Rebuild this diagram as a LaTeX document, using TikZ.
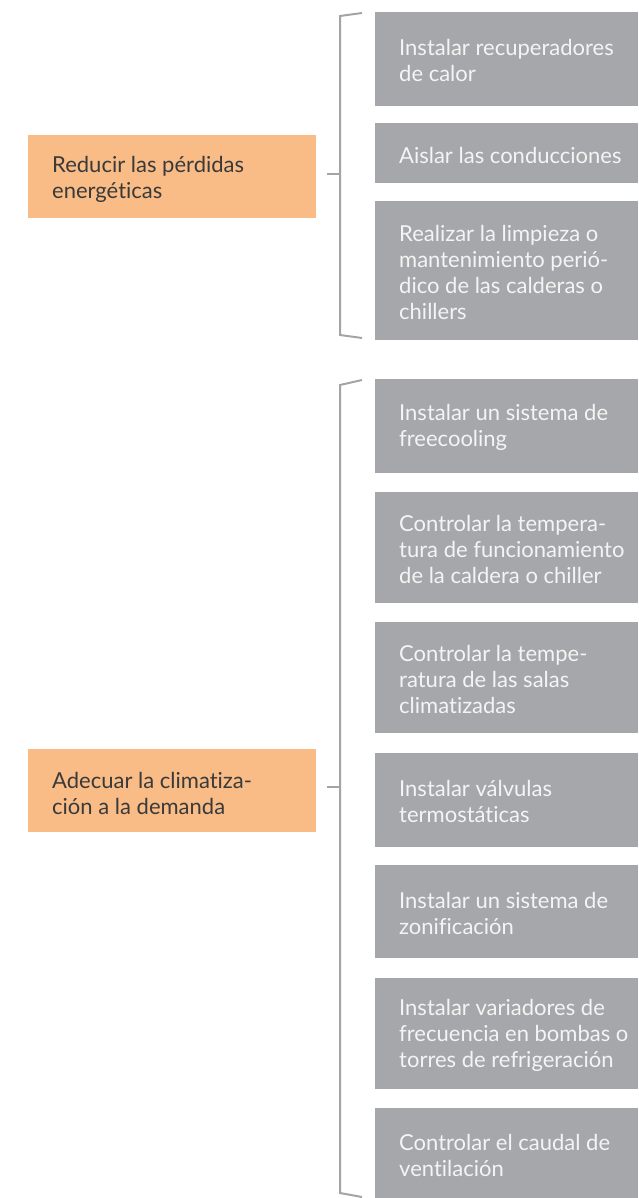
\documentclass[tikz,border=0pt]{standalone}
\usepackage{fontspec}
\setmainfont{Lato}[Ligatures={NoCommon}]
\definecolor{boxgray}{HTML}{A6A7AA}
\definecolor{boxorange}{HTML}{F9BC86}
\definecolor{linegray}{HTML}{A3A4A7}
\definecolor{graytext}{HTML}{F4F4F4}
\definecolor{darktext}{HTML}{3A3A3A}
\begin{document}
\begin{tikzpicture}[x=1pt,y=-1pt,
  graybox/.style={fill=boxgray,draw=none,inner sep=0pt,anchor=north west},
  orangebox/.style={fill=boxorange,draw=none,inner sep=0pt,anchor=north west},
  graylabel/.style={anchor=west,inner sep=0pt,align=left,text=graytext,font=\fontsize{22}{26}\selectfont},
  orangelabel/.style={anchor=west,inner sep=0pt,align=left,text=darktext,font=\fontsize{22}{26}\selectfont},
  bracket/.style={draw=linegray,line width=2pt}]
\useasboundingbox (0,0) rectangle (638,1198);
% orange boxes
\node[orangebox,minimum width=288pt,minimum height=83pt] (o1) at (28,135) {};
\node[orangelabel] (t1) at (52,179) {Reducir las pérdidas\\energéticas};
\node[orangebox,minimum width=288pt,minimum height=83pt] (o2) at (28,749) {};
\node[orangelabel] (t2) at (52,793) {Adecuar la climatiza-\\ción a la demanda};
% gray boxes
\node[graybox,minimum width=263pt,minimum height=94pt] (g1) at (375,12) {};
\node[graylabel] at (399,60) {Instalar recuperadores\\de calor};
\node[graybox,minimum width=263pt,minimum height=60pt] (g2) at (375,123) {};
\node[graylabel] at (399,155) {Aislar las conducciones};
\node[graybox,minimum width=263pt,minimum height=139pt] (g3) at (375,201) {};
\node[graylabel] at (399,272) {Realizar la limpieza o\\mantenimiento perió-\\dico de las calderas o\\chillers};
\node[graybox,minimum width=263pt,minimum height=94pt] (g4) at (375,379) {};
\node[graylabel] at (399,427) {Instalar un sistema de\\freecooling};
\node[graybox,minimum width=263pt,minimum height=111pt] (g5) at (375,492) {};
\node[graylabel] at (399,549) {Controlar la tempera-\\tura de funcionamiento\\de la caldera o chiller};
\node[graybox,minimum width=263pt,minimum height=111pt] (g6) at (375,622) {};
\node[graylabel] at (399,679) {Controlar la tempe-\\ratura de las salas\\climatizadas};
\node[graybox,minimum width=263pt,minimum height=94pt] (g7) at (375,753) {};
\node[graylabel] at (399,801) {Instalar válvulas\\termostáticas};
\node[graybox,minimum width=263pt,minimum height=93pt] (g8) at (375,865) {};
\node[graylabel] at (399,913) {Instalar un sistema de\\zonificación};
\node[graybox,minimum width=263pt,minimum height=111pt] (g9) at (375,978) {};
\node[graylabel] at (399,1035) {Instalar variadores de\\frecuencia en bombas o\\torres de refrigeración};
\node[graybox,minimum width=263pt,minimum height=90pt] (g10) at (375,1108) {};
\node[graylabel] at (399,1155) {Controlar el caudal de\\ventilación};
% brackets
\coordinate (b1a) at (362,13);
\coordinate (b1b) at (340,16);
\coordinate (b1c) at (340,335);
\coordinate (b1d) at (362,338);
\coordinate (b1t) at (327,174);
\coordinate (b1m) at (340,174);
\draw[bracket] (b1a) -- (b1b) -- (b1c) -- (b1d);
\draw[bracket] (b1t) -- (b1m);
\coordinate (b2a) at (362,380);
\coordinate (b2b) at (340,385);
\coordinate (b2c) at (340,1193);
\coordinate (b2d) at (362,1197);
\coordinate (b2t) at (327,787);
\coordinate (b2m) at (340,787);
\draw[bracket] (b2a) -- (b2b) -- (b2c) -- (b2d);
\draw[bracket] (b2t) -- (b2m);
\end{tikzpicture}
\end{document}
